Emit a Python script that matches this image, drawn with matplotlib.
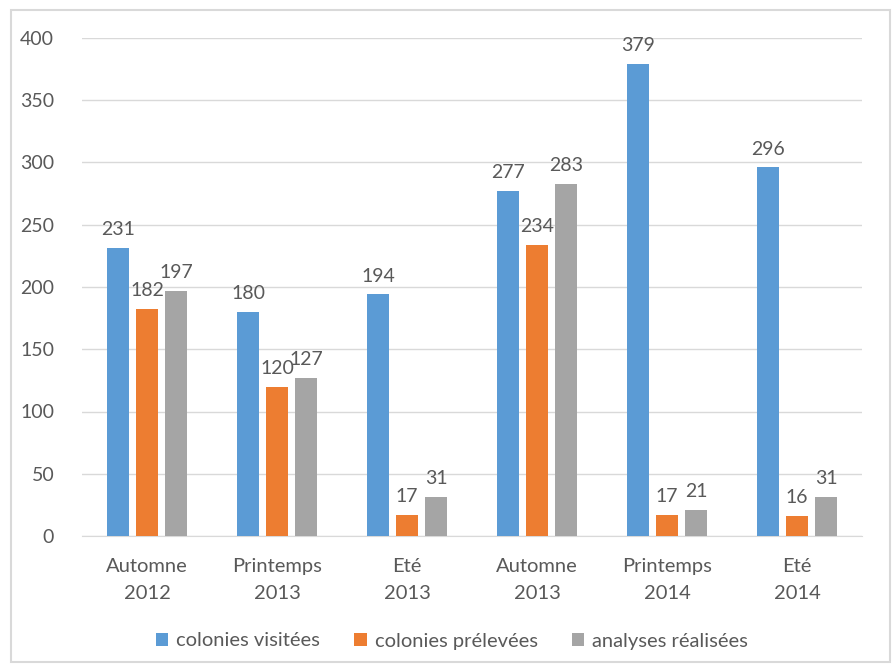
import numpy as np
import matplotlib
matplotlib.use('Agg')
from matplotlib import pyplot as plt
from matplotlib.patches import Rectangle

categories = ['Automne\n2012', 'Printemps\n2013', 'Eté\n2013', 'Automne\n2013', 'Printemps\n2014', 'Eté\n2014']
visitees = [231, 180, 194, 277, 379, 296]
prelevees = [182, 120, 17, 234, 17, 16]
analyses = [197, 127, 31, 283, 21, 31]
series_names = ['colonies visitées', 'colonies prélevées', 'analyses réalisées']
colors = ['#5B9BD5', '#ED7D31', '#A5A5A5']

plt.rcParams['font.family'] = ['Lato', 'DejaVu Sans']
txt = '#595959'

fig = plt.figure(figsize=(8.94, 6.66), dpi=100)
fig.patches.append(Rectangle((11/894, 4/666), 879/894, 652/666, transform=fig.transFigure,
                             fill=False, edgecolor='#D9D9D9', linewidth=1.5))
ax = fig.add_axes([82/894, 1-536/666, 780/894, 498/666])

x = np.arange(len(categories))
w = 0.17
step = 0.223
for i, (vals, name, c) in enumerate(zip([visitees, prelevees, analyses], series_names, colors)):
    bars = ax.bar(x + (i-1)*step, vals, w, color=c, label=name, zorder=3)
    for b, v in zip(bars, vals):
        ax.text(b.get_x() + b.get_width()/2, v + 8, str(v), ha='center', va='bottom',
                fontsize=14, color=txt)

ax.set_xlim(-0.5, len(categories)-0.5)
ax.set_ylim(0, 400)
ax.set_yticks(range(0, 401, 50))
ax.set_xticks(x)
ax.set_xticklabels(categories, fontsize=14.5, color=txt, linespacing=1.7)
ax.tick_params(axis='y', labelsize=14, labelcolor=txt, length=0, pad=20)
ax.tick_params(axis='x', length=0, pad=16)
ax.grid(axis='y', color='#D9D9D9', linewidth=1, zorder=0)
for s in ['top', 'right', 'left']:
    ax.spines[s].set_visible(False)
ax.spines['bottom'].set_color('#D9D9D9')

leg = fig.legend(loc='center', bbox_to_anchor=(452/894, 1-641/666), ncol=3, frameon=False,
                 fontsize=14.5, handlelength=0.6, handleheight=0.6, columnspacing=1.7, handletextpad=0.4)
for t in leg.get_texts():
    t.set_color(txt)

plt.savefig('out.png', dpi=100)
